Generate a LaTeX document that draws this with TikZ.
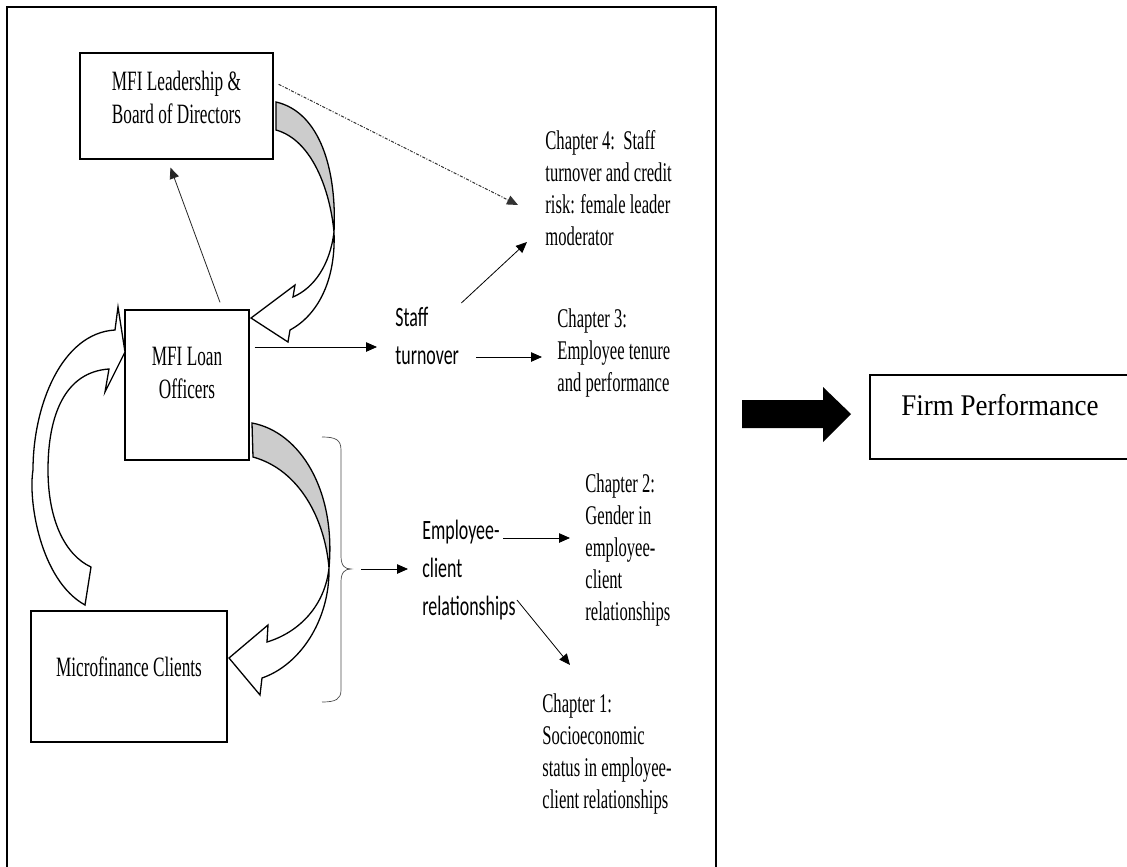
\documentclass[tikz,border=0pt]{standalone}
\usepackage{fontspec}
\setmainfont{Liberation Serif}
\newfontfamily\narrowserif[FakeStretch=0.615]{Liberation Serif}
\newfontfamily\narrowsans[FakeStretch=0.64]{Carlito}
\newfontfamily\wideserif[FakeStretch=0.9]{Liberation Serif}
\usetikzlibrary{positioning,arrows.meta}
\tikzset{every picture/.style={line width=0.8pt}}

\begin{document}
\begin{tikzpicture}[x=1pt, y=-1pt, >={Triangle[length=11pt,width=9.5pt]},
    box/.style={draw, line width=1.3pt, inner sep=0pt, align=center, font=\narrowserif\fontsize{28}{33}\selectfont},
    chap/.style={anchor=north west, inner sep=0pt, align=left, font=\narrowserif\fontsize{27}{32}\selectfont},
    lbl/.style={anchor=north west, inner sep=0pt, align=left, font=\narrowsans\fontsize{28}{38}\selectfont},
    band/.style={draw, line width=1.3pt, line join=miter}]
    \useasboundingbox (0,0) rectangle (1127,867);
    \draw[line width=1.5pt] (7,867) -- (7,7) -- (716,7) -- (716,867);

    \node[box, minimum width=193pt, minimum height=106pt, text depth=17pt] (lead) at (176.5,106) {MFI Leadership \&\\Board of Directors};
    \node[box, minimum width=124pt, minimum height=150pt, text depth=24pt] (lo) at (187,385) {MFI Loan\\Officers};
    \node[box, minimum width=196pt, minimum height=131pt, text depth=19pt] (cli) at (129,676.5) {Microfinance Clients};
    \node[box, line width=2.5pt, minimum width=260pt, minimum height=84pt, text depth=24pt, font=\wideserif\fontsize{30}{34}\selectfont] (firm) at (1000,417) {Firm Performance};

    \node[lbl] (staff) at (395,307) {Staff\\turnover};
    \node[lbl] (ecr) at (422,520) {Employee-\\client\\relationships};
    \node[chap] (ch4) at (545,130) {Chapter 4:\ \ Staff\\turnover and credit\\risk: female leader\\moderator};
    \node[chap] (ch3) at (557,308) {Chapter 3:\\Employee tenure\\and performance};
    \node[chap] (ch2) at (585,473) {Chapter 2:\\Gender in\\employee-\\client\\relationships};
    \node[chap] (ch1) at (542,693) {Chapter 1:\\Socioeconomic\\status in employee-\\client relationships};

    % curved block arrows
    \filldraw[band, fill=gray!40] (276,102) .. controls (320,112) and (337,170) .. (334,232) .. controls (330,190) and (312,140) .. (276,130) -- cycle;
    \filldraw[band, fill=white] (334,232) .. controls (330,265) and (314,288) .. (293,297) -- (295,285) -- (251,318) -- (288,342) -- (290,330) .. controls (318,315) and (336,280) .. (334,232) -- cycle;
    \filldraw[band, fill=gray!40] (252,423) .. controls (300,432) and (336,490) .. (329,568) .. controls (325,520) and (300,470) .. (253,457) -- cycle;
    \filldraw[band, fill=white] (329,568) .. controls (325,605) and (300,632) .. (267,642) -- (268,625) -- (229,658) -- (260,695) -- (262,678) .. controls (300,665) and (330,620) .. (329,568) -- cycle;
    \filldraw[band, fill=white] (85,605) .. controls (40,580) and (28,500) .. (33,470) .. controls (33,405) and (62,333) .. (115,330) -- (118,307) -- (125,352) -- (105,392) -- (109,369) .. controls (65,372) and (48,415) .. (48,470) .. controls (48,520) and (65,555) .. (91,567) -- cycle;

    \draw[->, black!85] ([xshift=33pt,yshift=7pt]lo.north) -- ([xshift=-6pt,yshift=-8pt]lead.south);
    \draw[->, black!80, line width=1pt, dash pattern=on 3pt off 1.5pt on 1pt off 1.5pt] ([xshift=5pt,yshift=-32pt]lead.north east) -- ([xshift=-27pt,yshift=-75pt]ch4.north west);
    \draw[->] ([xshift=5pt,yshift=38pt]lo.east) -- ([xshift=-18pt,yshift=-40pt]staff.north west);
    \draw[->] ([xshift=17pt,yshift=-50pt]staff.north east) -- ([xshift=-15pt,yshift=-49pt]ch3.north west);
    \draw[->] ([xshift=2pt,yshift=4pt]staff.north east) -- ([xshift=-18pt,yshift=-112pt]ch4.north west);

    \draw[black!70, line width=0.7pt] (322,437) .. controls (336,437) and (341,440) .. (341,450) -- (341,556) .. controls (341,566) and (345,569) .. (351,569)
        coordinate (brtip) .. controls (345,569) and (341,572) .. (341,582) -- (341,690) .. controls (341,699) and (336,702) .. (322,702);
    \draw[->] ([xshift=10pt]brtip) -- ([xshift=-14pt,yshift=-49pt]ecr.north west);
    \draw[->] ([xshift=81pt,yshift=-18pt]ecr.north west) -- ([xshift=-15pt,yshift=-65pt]ch2.north west);
    \draw[->] ([xshift=1pt,yshift=-80pt]ecr.north east) -- ([xshift=28pt,yshift=28pt]ch1.north west);

    \fill (742,400) -- (823,400) -- (823,387) -- (851,414) -- (823,442) -- (823,428) -- (742,428) -- cycle;
\end{tikzpicture}
\end{document}
